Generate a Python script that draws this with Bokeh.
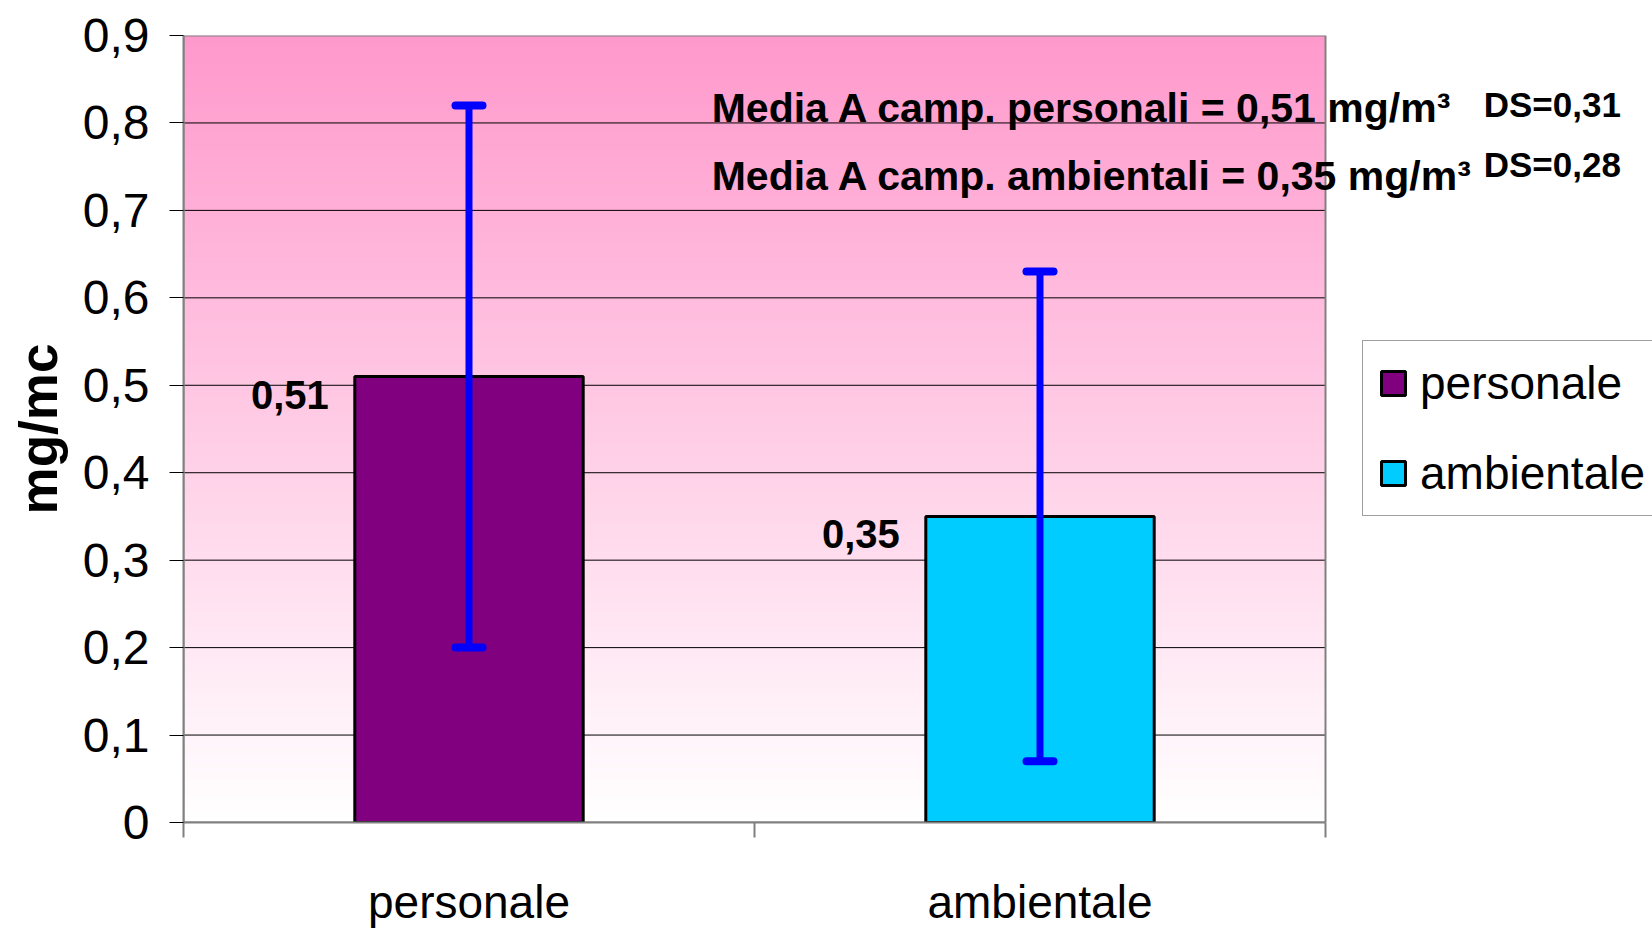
import numpy as np
from bokeh.plotting import figure
from bokeh.models import (Range1d, FixedTicker, Whisker, TeeHead, ColumnDataSource,
                          Legend, LegendItem, Label)
from bokeh.embed import file_html
from bokeh.resources import INLINE
from bokeh.core.properties import value

# ---- data ----
categories = ["personale", "ambientale"]
means = [0.51, 0.35]
sds = [0.31, 0.28]
bar_colors = ["#800080", "#00CCFF"]
annotation_names = ["personali", "ambientali"]
y_ticks = [0.0, 0.1, 0.2, 0.3, 0.4, 0.5, 0.6, 0.7, 0.8, 0.9]
y_tick_labels = ["0", "0,1", "0,2", "0,3", "0,4", "0,5", "0,6", "0,7", "0,8", "0,9"]
y_max = 0.9


def fmt(v):
    return f"{v:.2f}".replace(".", ",")


FONT = "Liberation Sans"
W, H = 1652, 930
n = len(categories)
bar_w = 0.4
LEFT, TOP, BOTTOM = 183, 35, 108
PLOT_PX = 1142  # pixel width of the shaded plotting area
x_end = n * (W - LEFT) / PLOT_PX  # frame extends to the right edge (room for notes/legend)

p = figure(width=W, height=H, output_backend="svg", toolbar_location=None,
           x_range=Range1d(0, x_end), y_range=Range1d(0, y_max),
           min_border_left=LEFT, min_border_right=0, min_border_top=TOP,
           min_border_bottom=BOTTOM)
p.background_fill_color = "white"
p.border_fill_color = "white"
p.outline_line_color = None

# gradient background (pink top -> white bottom) over the plotting area
N = 256
t = np.linspace(0, 1, N)
rgba = np.zeros((N, 1, 4), dtype=np.uint8)
rgba[:, 0, 0] = 255
rgba[:, 0, 1] = np.round(255 - 102 * t).astype(np.uint8)
rgba[:, 0, 2] = np.round(255 - 51 * t).astype(np.uint8)
rgba[:, 0, 3] = 255
img = rgba.view(dtype=np.uint32).reshape((N, 1))
p.image_rgba(image=[img], x=0, y=0, dw=n, dh=y_max, level="image")

# grid lines restricted to the plotting area
inner = y_ticks[1:-1]
p.segment(x0=[0] * len(inner), x1=[n] * len(inner), y0=inner, y1=inner,
          line_color="black", line_width=1)
# plot-area border
p.quad(left=[0], right=[n], bottom=[0], top=[y_max], fill_color=None,
       line_color="#808080", line_width=2)

xs = [i + 0.5 for i in range(n)]
src = ColumnDataSource(dict(
    x=xs, top=means, color=bar_colors, cat=categories,
    upper=[m + s for m, s in zip(means, sds)],
    lower=[m - s for m, s in zip(means, sds)],
    lab=[fmt(m) for m in means],
    lx=[x - bar_w / 2 for x in xs],
))

bars = p.vbar(x="x", top="top", bottom=0, width=bar_w, source=src,
              fill_color="color", line_color="black", line_width=3)

wh = Whisker(base="x", upper="upper", lower="lower", source=src,
             line_color="#0000FF", line_width=7, level="annotation", line_cap="round",
             upper_head=TeeHead(size=27, line_color="#0000FF", line_width=8, line_cap="round"),
             lower_head=TeeHead(size=27, line_color="#0000FF", line_width=8, line_cap="round"))
p.add_layout(wh)

p.text(x="lx", y="top", text="lab", source=src, text_align="right",
       text_baseline="top", x_offset=-26, y_offset=4,
       text_font=value(FONT), text_font_style="bold", text_font_size="40px",
       text_color="black")

# axes
p.xgrid.grid_line_color = None
p.ygrid.grid_line_color = None

p.xaxis.bounds = (0, n)
p.xaxis.ticker = FixedTicker(ticks=xs, minor_ticks=list(range(n + 1)))
p.xaxis.major_label_overrides = {x: c for x, c in zip(xs, categories)}
p.xaxis.major_tick_line_color = None
p.xaxis.major_tick_out = 0
p.xaxis.major_tick_in = 0
p.xaxis.minor_tick_out = 15
p.xaxis.minor_tick_in = 0
p.xaxis.minor_tick_line_color = "#808080"
p.xaxis.minor_tick_line_width = 2
p.xaxis.axis_line_color = "#808080"
p.xaxis.axis_line_width = 2
p.xaxis.major_label_standoff = 38
p.xaxis.major_label_text_font = FONT
p.xaxis.major_label_text_font_size = "46px"
p.xaxis.major_label_text_color = "black"

p.yaxis.ticker = FixedTicker(ticks=y_ticks)
p.yaxis.major_label_overrides = {v: l for v, l in zip(y_ticks, y_tick_labels)}
p.yaxis.major_tick_out = 14
p.yaxis.major_tick_in = 0
p.yaxis.major_tick_line_color = "black"
p.yaxis.minor_tick_line_color = None
p.yaxis.axis_line_color = "#808080"
p.yaxis.axis_line_width = 2
p.yaxis.major_label_standoff = 20
p.yaxis.major_label_text_font = FONT
p.yaxis.major_label_text_font_size = "48px"
p.yaxis.major_label_text_color = "black"
p.yaxis.axis_label = "mg/mc"
p.yaxis.axis_label_text_font = FONT
p.yaxis.axis_label_text_font_style = "bold"
p.yaxis.axis_label_text_font_size = "53px"
p.yaxis.axis_label_text_color = "black"
p.yaxis.axis_label_standoff = 12

# annotations
line_y = [0.817, 0.739]
ds_y = [0.821, 0.752]
for i, (name, m, s) in enumerate(zip(annotation_names, means, sds)):
    p.add_layout(Label(x=0.925, y=line_y[i],
                       text=f"Media A camp. {name} = {fmt(m)} mg/m³",
                       text_font=FONT, text_font_style="bold",
                       text_font_size="41px", text_color="black",
                       text_baseline="alphabetic"))
    p.add_layout(Label(x=2.277, y=ds_y[i], text=f"DS={fmt(s)}",
                       text_font=FONT, text_font_style="bold",
                       text_font_size="35px", text_color="black",
                       text_baseline="alphabetic"))

# legend
items = [LegendItem(label=c, renderers=[bars], index=i) for i, c in enumerate(categories)]
legend = Legend(items=items, location=(1179, 306))
legend.border_line_color = "#404040"
legend.border_line_width = 1
legend.background_fill_color = "white"
legend.background_fill_alpha = 1
legend.label_text_font = FONT
legend.label_text_font_size = "46px"
legend.label_text_color = "black"
legend.glyph_width = 30
legend.glyph_height = 30
legend.label_standoff = 12
legend.padding = 15
legend.spacing = 36
legend.margin = 0
p.add_layout(legend, "center")

open("out.html", "w").write(file_html(p, INLINE))
